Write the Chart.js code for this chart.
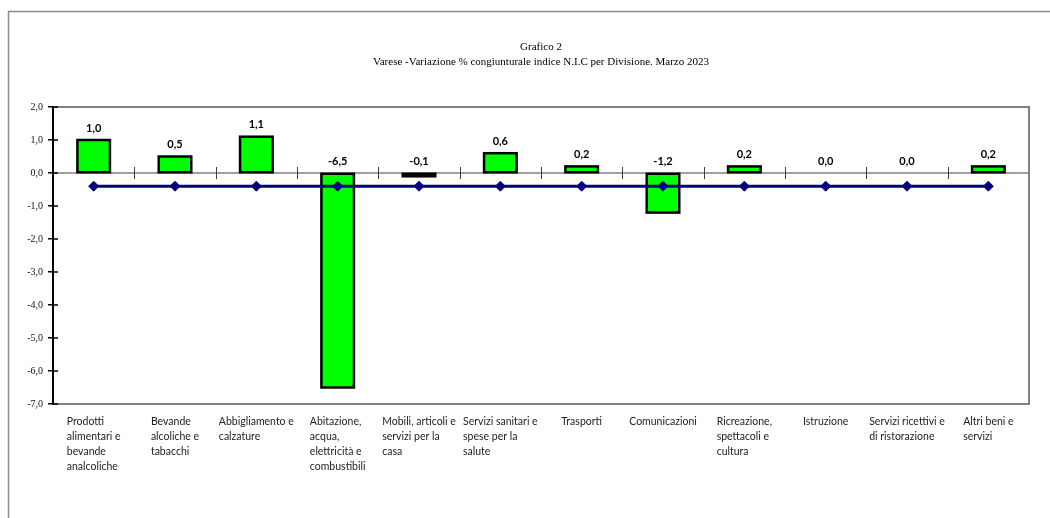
<!DOCTYPE html>
<html>
<head>
<meta charset="utf-8">
<script src="https://cdn.jsdelivr.net/npm/chart.js@4.4.0/dist/chart.umd.min.js"></script>
<style>
html,body{margin:0;padding:0;background:#fff;}
#wrap{width:1050px;height:518px;position:relative;}
</style>
</head>
<body>
<div id="wrap"><canvas id="c" width="1050" height="518"></canvas></div>
<script>
const categories = [
  ["Prodotti","alimentari e","bevande","analcoliche"],
  ["Bevande","alcoliche e","tabacchi"],
  ["Abbigliamento e","calzature"],
  ["Abitazione,","acqua,","elettricità e","combustibili"],
  ["Mobili, articoli e","servizi per la","casa"],
  ["Servizi sanitari e","spese per la","salute"],
  ["Trasporti"],
  ["Comunicazioni"],
  ["Ricreazione,","spettacoli e","cultura"],
  ["Istruzione"],
  ["Servizi ricettivi e","di ristorazione"],
  ["Altri beni e","servizi"]
];
const varese = [1.0, 0.5, 1.1, -6.5, -0.1, 0.6, 0.2, -1.2, 0.2, 0.0, 0.0, 0.2];
const generale = [-0.4, -0.4, -0.4, -0.4, -0.4, -0.4, -0.4, -0.4, -0.4, -0.4, -0.4, -0.4];
const titleLines = ["Grafico 2", "Varese -Variazione % congiunturale indice N.I.C per Divisione. Marzo 2023"];
const yMin = -7, yMax = 2;

const fmt = v => v.toFixed(1).replace('.', ',');

const decor = {
  id: 'decor',
  beforeDraw(chart) {
    const ctx = chart.ctx;
    ctx.save();
    ctx.fillStyle = '#fff';
    ctx.fillRect(0, 0, chart.width, chart.height);
    ctx.strokeStyle = '#8c8c8c';
    ctx.lineWidth = 1.5;
    ctx.beginPath();
    ctx.moveTo(8.5, chart.height + 5);
    ctx.lineTo(8.5, 11.5);
    ctx.lineTo(chart.width + 5, 11.5);
    ctx.stroke();
    ctx.restore();
  },
  beforeDatasetsDraw(chart) {
    const ctx = chart.ctx, a = chart.chartArea;
    const x = chart.scales.x, y = chart.scales.y;
    ctx.save();
    ctx.strokeStyle = '#808080';
    ctx.lineWidth = 2;
    ctx.beginPath();
    ctx.moveTo(a.left, a.top);
    ctx.lineTo(a.right, a.top);
    ctx.lineTo(a.right, a.bottom);
    ctx.lineTo(a.left, a.bottom);
    ctx.stroke();
    const y0 = y.getPixelForValue(0);
    ctx.lineWidth = 1.5;
    ctx.beginPath();
    ctx.moveTo(a.left, y0);
    ctx.lineTo(a.right, y0);
    ctx.stroke();
    ctx.strokeStyle = '#404040';
    ctx.lineWidth = 1;
    for (let i = 1; i < categories.length; i++) {
      const px = Math.round((x.getPixelForValue(i - 1) + x.getPixelForValue(i)) / 2) + 0.5;
      ctx.beginPath();
      ctx.moveTo(px, y0 - 6);
      ctx.lineTo(px, y0 + 6);
      ctx.stroke();
    }
    ctx.strokeStyle = '#000';
    ctx.lineWidth = 1.5;
    for (let v = yMin; v <= yMax; v++) {
      const py = y.getPixelForValue(v);
      ctx.beginPath();
      ctx.moveTo(a.left, py);
      ctx.lineTo(a.left + 5, py);
      ctx.stroke();
    }
    ctx.lineWidth = 2;
    ctx.beginPath();
    ctx.moveTo(a.left, a.top - 1);
    ctx.lineTo(a.left, a.bottom + 1);
    ctx.stroke();
    ctx.restore();
  },
  afterDatasetDraw(chart, args) {
    const meta = chart.getDatasetMeta(args.index);
    if (meta.type !== 'bar') return;
    const ctx = chart.ctx;
    ctx.save();
    ctx.strokeStyle = '#000';
    ctx.lineWidth = 2.5;
    meta.data.forEach((el, i) => {
      if (varese[i] === 0) return;
      const p = el.getProps(['x', 'y', 'base', 'width'], true);
      const left = p.x - p.width / 2;
      const top = Math.min(p.y, p.base);
      const h = Math.abs(p.base - p.y);
      ctx.strokeRect(left, top, p.width, h);
    });
    ctx.restore();
  },
  afterDraw(chart) {
    const ctx = chart.ctx, a = chart.chartArea;
    const x = chart.scales.x, y = chart.scales.y;
    ctx.save();
    ctx.fillStyle = '#000';
    ctx.font = '11px "Liberation Serif", "Times New Roman", serif';
    ctx.textAlign = 'center';
    ctx.textBaseline = 'middle';
    const cx = (a.left + a.right) / 2;
    ctx.fillText(titleLines[0], cx, 47);
    ctx.fillText(titleLines[1], cx, 62);
    ctx.font = 'bold 11px Lato, "Liberation Sans", sans-serif';
    ctx.fillStyle = '#000';
    varese.forEach((v, i) => {
      const px = x.getPixelForValue(i);
      const py = y.getPixelForValue(Math.max(v, 0)) - 12;
      ctx.fillText(fmt(v), px, py);
    });
    ctx.font = '10.5px Lato, "Liberation Sans", sans-serif';
    ctx.fillStyle = '#222';
    ctx.textAlign = 'left';
    categories.forEach((lines, i) => {
      const px = x.getPixelForValue(i);
      let w = 0;
      lines.forEach(l => { w = Math.max(w, ctx.measureText(l).width); });
      const sx = px - w / 2;
      lines.forEach((l, j) => {
        ctx.fillText(l, sx, a.bottom + 18 + j * 15);
      });
    });
    ctx.restore();
  }
};

new Chart(document.getElementById('c'), {
  data: {
    labels: categories.map(c => c.join(' ')),
    datasets: [
      {
        type: 'line',
        label: 'Indice generale',
        data: generale,
        borderColor: '#000080',
        backgroundColor: '#000080',
        borderWidth: 3,
        pointStyle: 'rectRot',
        pointRadius: 5,
        pointBackgroundColor: '#000080',
        pointBorderColor: '#000080',
        pointBorderWidth: 1,
        tension: 0,
        order: 0
      },
      {
        type: 'bar',
        label: 'Varese',
        data: varese,
        backgroundColor: '#00ff00',
        borderWidth: 0,
        barPercentage: 0.4,
        categoryPercentage: 1.0,
        order: 1
      }
    ]
  },
  options: {
    responsive: false,
    animation: false,
    devicePixelRatio: 1,
    layout: { padding: { left: 8, right: 21, top: 107, bottom: 114 } },
    plugins: { legend: { display: false }, tooltip: { enabled: false }, title: { display: false } },
    scales: {
      x: {
        display: false,
        offset: true
      },
      y: {
        min: yMin,
        max: yMax,
        afterFit(scale) { scale.width = 45; },
        border: { display: false },
        grid: { display: true, drawOnChartArea: false, drawTicks: true, tickLength: 5, color: '#000', lineWidth: 1.5 },
        ticks: {
          stepSize: 1,
          padding: 5,
          color: '#111',
          font: { family: '"Liberation Serif", "Times New Roman", serif', size: 10 },
          callback: v => fmt(v)
        }
      }
    }
  },
  plugins: [decor]
});
</script>
</body>
</html>
